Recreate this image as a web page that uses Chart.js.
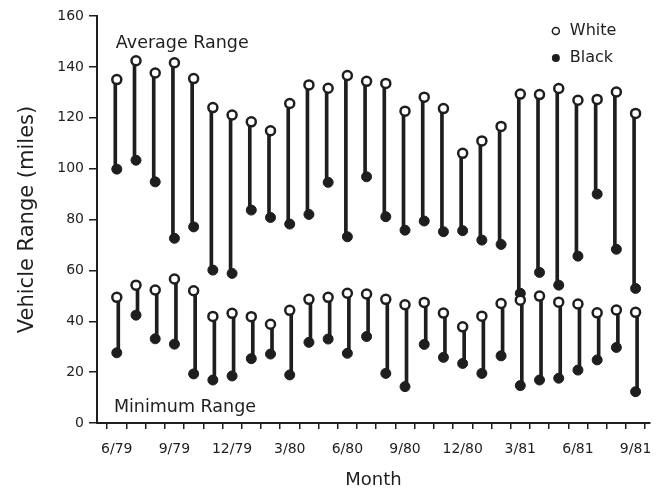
<!DOCTYPE html>
<html>
<head>
<meta charset="utf-8">
<script src="https://cdn.jsdelivr.net/npm/chart.js@4/dist/chart.umd.min.js"></script>
<style>
  html, body { margin: 0; padding: 0; background: #fff; }
  #rangeChart { display: block; }
</style>
</head>
<body>
<canvas id="rangeChart" width="657" height="491"></canvas>
<script>
const months = ['6/79','7/79','8/79','9/79','10/79','11/79','12/79','1/80','2/80','3/80','4/80','5/80',
  '6/80','7/80','8/80','9/80','10/80','11/80','12/80','1/81','2/81','3/81','4/81','5/81','6/81','7/81','8/81','9/81'];

// average range, miles
const avgWhite = [135.0,142.4,137.6,141.6,135.4,124.0,121.1,118.4,114.9,125.6,132.9,131.6,136.6,134.3,
  133.5,122.6,128.1,123.6,106.0,110.9,116.6,129.3,129.1,131.5,126.9,127.2,130.1,121.7];
const avgBlack = [99.8,103.3,94.8,72.6,77.1,60.1,58.8,83.7,80.8,78.2,82.0,94.6,73.2,96.8,
  81.1,75.8,79.4,75.2,75.6,71.9,70.2,51.0,59.2,54.2,65.6,90.0,68.3,52.9];

// minimum range, miles
const minWhite = [49.4,54.2,52.3,56.6,52.0,41.9,43.1,41.8,38.8,44.3,48.6,49.4,51.0,50.7,
  48.6,46.5,47.4,43.2,37.8,42.0,47.0,48.3,49.9,47.5,46.8,43.3,44.4,43.5];
const minBlack = [27.6,42.4,33.1,31.0,19.3,16.9,18.5,25.3,27.1,18.9,31.7,33.0,27.4,34.0,
  19.5,14.3,30.9,25.8,23.4,19.5,26.4,14.7,16.9,17.6,20.8,24.8,29.7,12.3];

const INK = '#1e1e1e';
const FONT = 'DejaVu Sans';

function pts(arr) {
  return arr.map((v, i) => ({x: i, y: v}));
}
function stems(lo, hi) {
  return lo.map((v, i) => ({x: i, y: [v, hi[i]]}));
}

const openPoint = {
  type: 'scatter', pointStyle: 'circle', pointRadius: 4.5, pointBorderWidth: 2.5,
  borderColor: INK, backgroundColor: '#fff', order: 1
};
const filledPoint = {
  type: 'scatter', pointStyle: 'circle', pointRadius: 5, pointBorderWidth: 1,
  borderColor: INK, backgroundColor: INK, order: 1
};
const stem = {
  type: 'bar', barThickness: 3, backgroundColor: INK, borderWidth: 0, borderSkipped: false, order: 3
};

// text labels inside the plot + the little legend
const labelsPlugin = {
  id: 'labels',
  afterDraw(chart) {
    const ctx = chart.ctx;
    const x = chart.scales.x, y = chart.scales.y;
    ctx.save();
    ctx.fillStyle = INK;
    ctx.font = '17.5px "' + FONT + '"';
    ctx.textBaseline = 'middle';
    ctx.textAlign = 'left';
    ctx.fillText('Average Range', x.getPixelForValue(-0.05), y.getPixelForValue(149.3));
    ctx.fillText('Minimum Range', x.getPixelForValue(-0.15), y.getPixelForValue(6.3));

    ctx.font = '16px "' + FONT + '"';
    const lx = x.getPixelForValue(22.85);
    const rows = [['White', 154.1, false], ['Black', 143.5, true]];
    rows.forEach(([txt, v, filled]) => {
      const ly = y.getPixelForValue(v);
      ctx.beginPath();
      ctx.arc(lx, ly, filled ? 4 : 3.5, 0, Math.PI * 2);
      if (filled) { ctx.fill(); }
      else { ctx.lineWidth = 1.5; ctx.strokeStyle = INK; ctx.stroke(); }
      ctx.fillText(txt, lx + 14, ly);
    });
    ctx.restore();
  }
};

const config = {
  type: 'bar',
  data: {
    datasets: [
      Object.assign({data: stems(avgBlack, avgWhite)}, stem),
      Object.assign({data: stems(minBlack, minWhite)}, stem),
      Object.assign({data: pts(avgWhite)}, openPoint),
      Object.assign({data: pts(minWhite)}, openPoint),
      Object.assign({data: pts(avgBlack)}, filledPoint),
      Object.assign({data: pts(minBlack)}, filledPoint)
    ]
  },
  options: {
    responsive: false,
    animation: false,
    devicePixelRatio: 1,
    layout: {padding: {top: 16, right: 5, bottom: 0, left: 0}},
    plugins: {legend: {display: false}, tooltip: {enabled: false}},
    scales: {
      x: {
        type: 'linear',
        offset: false,
        min: -1.03,
        max: 27.75,
        afterBuildTicks: (scale) => { scale.ticks = months.map((m, i) => ({value: i})); },
        afterFit: (scale) => {
          scale.height = 68;
          scale.paddingLeft = 0;
          scale.paddingRight = 0;
        },
        grid: {drawOnChartArea: false, drawTicks: true, tickLength: 6, color: INK, lineWidth: 1.5},
        border: {display: true, color: INK, width: 2},
        ticks: {
          autoSkip: false, maxRotation: 0, padding: 12, color: INK,
          font: {family: FONT, size: 14},
          callback: (v) => (v % 3 === 0 ? months[v] : '')
        },
        title: {display: true, text: 'Month', color: INK, font: {family: FONT, size: 18},
          padding: {top: 0, bottom: 0}}
      },
      y: {
        min: 0,
        max: 160,
        afterFit: (scale) => { scale.width = 97; },
        grid: {drawOnChartArea: false, drawTicks: true, tickLength: 8, color: INK, lineWidth: 1.5},
        border: {display: true, color: INK, width: 2},
        ticks: {stepSize: 20, padding: 5, color: INK, font: {family: FONT, size: 14}},
        title: {display: true, text: 'Vehicle Range (miles)', color: INK,
          font: {family: FONT, size: 21}, padding: {top: 15.4, bottom: 0}}
      }
    }
  },
  plugins: [labelsPlugin]
};

const rangeCanvas = document.getElementById('rangeChart').getContext('2d');
const rangeChart = new Chart(rangeCanvas, config);
</script>
</body>
</html>
